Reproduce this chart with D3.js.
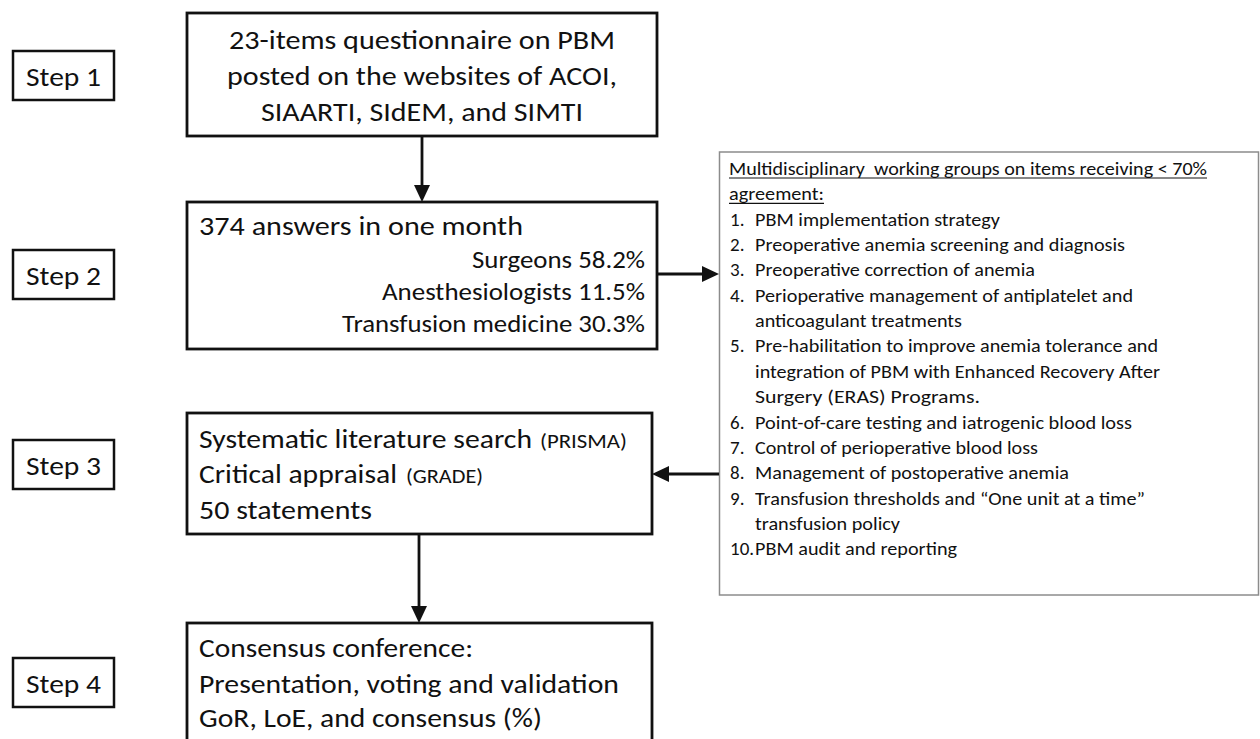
<!DOCTYPE html>
<html>
<head>
<meta charset="utf-8">
<script src="https://cdn.jsdelivr.net/npm/d3@7"></script>
<style>
  html, body { margin: 0; padding: 0; background: #fff; }
  svg { display: block; }
  text { font-family: Carlito, Lato, "Open Sans", sans-serif; fill: #111; white-space: pre; }
</style>
</head>
<body>
<svg id="chart" width="1260" height="739"></svg>
<script>
// ---------- DATA (text content) ----------
const stepLabels = ["Step 1", "Step 2", "Step 3", "Step 4"];
const questionnaireLines = [
  "23-items questionnaire on PBM",
  "posted on the websites of ACOI,",
  "SIAARTI, SIdEM, and SIMTI"
];
const answersTitle = "374 answers in one month";
const respondentGroups = ["Surgeons", "Anesthesiologists", "Transfusion medicine"];
const respondentShares = [58.2, 11.5, 30.3];
const reviewLines = ["Systematic literature search", "Critical appraisal", "50 statements"];
const reviewNotes = ["(PRISMA)", "(GRADE)", ""];
const consensusLines = [
  "Consensus conference:",
  "Presentation, voting and validation",
  "GoR, LoE, and consensus (%)"
];
const panelHeader = [
  "Multidisciplinary  working groups on items receiving < 70%",
  "agreement:"
];
const panelItems = [
  ["PBM implementation strategy"],
  ["Preoperative anemia screening and diagnosis"],
  ["Preoperative correction of anemia"],
  ["Perioperative management of antiplatelet and", "anticoagulant treatments"],
  ["Pre-habilitation to improve anemia tolerance and", "integration of PBM with Enhanced Recovery After", "Surgery (ERAS) Programs."],
  ["Point-of-care testing and iatrogenic blood loss"],
  ["Control of perioperative blood loss"],
  ["Management of postoperative anemia"],
  ["Transfusion thresholds and \u201cOne unit at a time\u201d", "transfusion policy"],
  ["PBM audit and reporting"]
];

// ---------- LAYOUT (positions / sizes) ----------
const layout = {
  stepBox: { x: 13, w: 101, h: 49, tops: [51, 250, 440, 658], baselineOff: 35, size: 27, textW: 75 },
  boxes: [
    { x: 187, y: 13, w: 470, h: 123 },
    { x: 187, y: 202, w: 470, h: 147 },
    { x: 187, y: 413, w: 465, h: 121 },
    { x: 187, y: 623, w: 465, h: 150 }
  ],
  panel: { x: 719.5, y: 152, w: 539, h: 443 },
  mainSize: 27,
  subSize: 24.5,
  noteSize: 21,
  listSize: 19,
  box1: { cx: 422, baselines: [49, 85, 121], widths: [386, 390, 322] },
  box2: { titleX: 199, titleY: 235, titleW: 324, rightX: 645, baselines: [268, 300, 332], widths: [173, 263, 303] },
  box3: { x: 199, baselines: [448, 483, 519], widths: [333, 198, 173], noteX: [540, 406], noteW: [87, 77] },
  box4: { x: 199, baselines: [657, 693, 727], widths: [274, 420, 343] },
  list: { numX: 730, textX: 755, firstBaseline: 175, step: 25.35,
          headerW: [478, 95],
          itemW: [[245], [370], [280], [378, 207], [403, 405, 225], [377], [283], [314], [390, 145], [202]] },
  arrows: [
    { x1: 422, y1: 136, x2: 422, y2: 202 },
    { x1: 419, y1: 534, x2: 419, y2: 623 },
    { x1: 657, y1: 274, x2: 719, y2: 274 },
    { x1: 719, y1: 474, x2: 652, y2: 474 }
  ],
  head: { len: 17, half: 8 }
};

const svg = d3.select("#chart");
const ink = "#111";

function addText(g, str, x, y, size, width, anchor) {
  const t = g.append("text")
    .attr("x", x).attr("y", y)
    .attr("font-size", size)
    .attr("text-anchor", anchor || "start")
    .text(str);
  if (width) t.attr("textLength", width).attr("lengthAdjust", "spacingAndGlyphs");
  return t;
}

// ---------- Step labels ----------
const sb = layout.stepBox;
const stepG = svg.append("g");
stepG.selectAll("rect").data(stepLabels).join("rect")
  .attr("x", sb.x).attr("y", (d, i) => sb.tops[i])
  .attr("width", sb.w).attr("height", sb.h)
  .attr("fill", "#fff").attr("stroke", ink).attr("stroke-width", 2.5);
stepLabels.forEach((s, i) => addText(stepG, s, sb.x + sb.w / 2, sb.tops[i] + sb.baselineOff, sb.size, sb.textW, "middle"));

// ---------- Main boxes ----------
const boxG = svg.append("g");
boxG.selectAll("rect").data(layout.boxes).join("rect")
  .attr("x", d => d.x).attr("y", d => d.y)
  .attr("width", d => d.w).attr("height", d => d.h)
  .attr("fill", "#fff").attr("stroke", ink).attr("stroke-width", 2.8);

// Box 1
questionnaireLines.forEach((s, i) =>
  addText(boxG, s, layout.box1.cx, layout.box1.baselines[i], layout.mainSize, layout.box1.widths[i], "middle"));

// Box 2
const b2 = layout.box2;
addText(boxG, answersTitle, b2.titleX, b2.titleY, layout.mainSize, b2.titleW);
respondentGroups.forEach((g, i) =>
  addText(boxG, g + " " + d3.format(".1f")(respondentShares[i]) + "%", b2.rightX, b2.baselines[i], layout.subSize, b2.widths[i], "end"));

// Box 3
const b3 = layout.box3;
reviewLines.forEach((s, i) => {
  addText(boxG, s, b3.x, b3.baselines[i], layout.mainSize, b3.widths[i]);
  if (reviewNotes[i]) addText(boxG, reviewNotes[i], b3.noteX[i], b3.baselines[i], layout.noteSize, b3.noteW[i]);
});

// Box 4
const b4 = layout.box4;
consensusLines.forEach((s, i) => addText(boxG, s, b4.x, b4.baselines[i], layout.mainSize, b4.widths[i]));

// ---------- Side panel ----------
const p = layout.panel;
const panelG = svg.append("g");
panelG.append("rect")
  .attr("x", p.x).attr("y", p.y).attr("width", p.w).attr("height", p.h)
  .attr("fill", "#fff").attr("stroke", "#8c8c8c").attr("stroke-width", 1.5);

const L = layout.list;
let row = 0;
panelHeader.forEach((s, i) => {
  const y = L.firstBaseline + row * L.step;
  addText(panelG, s, L.numX - 1, y, layout.listSize, L.headerW[i]);
  panelG.append("line")
    .attr("x1", L.numX - 1).attr("x2", L.numX - 1 + L.headerW[i])
    .attr("y1", y + 3).attr("y2", y + 3)
    .attr("stroke", ink).attr("stroke-width", 1.2);
  row++;
});
panelItems.forEach((lines, i) => {
  lines.forEach((s, j) => {
    const y = L.firstBaseline + row * L.step;
    if (j === 0) addText(panelG, (i + 1) + ".", L.numX, y, layout.listSize);
    addText(panelG, s, L.textX, y, layout.listSize, L.itemW[i][j]);
    row++;
  });
});

// ---------- Arrows ----------
const arrowG = svg.append("g");
const hd = layout.head;
layout.arrows.forEach(a => {
  const ang = Math.atan2(a.y2 - a.y1, a.x2 - a.x1);
  const bx = a.x2 - hd.len * Math.cos(ang), by = a.y2 - hd.len * Math.sin(ang);
  arrowG.append("line")
    .attr("x1", a.x1).attr("y1", a.y1).attr("x2", bx).attr("y2", by)
    .attr("stroke", ink).attr("stroke-width", 2.8);
  const px = -Math.sin(ang) * hd.half, py = Math.cos(ang) * hd.half;
  arrowG.append("path")
    .attr("d", d3.line()([[a.x2, a.y2], [bx + px, by + py], [bx - px, by - py]]) + "Z")
    .attr("fill", ink);
});
</script>
</body>
</html>
